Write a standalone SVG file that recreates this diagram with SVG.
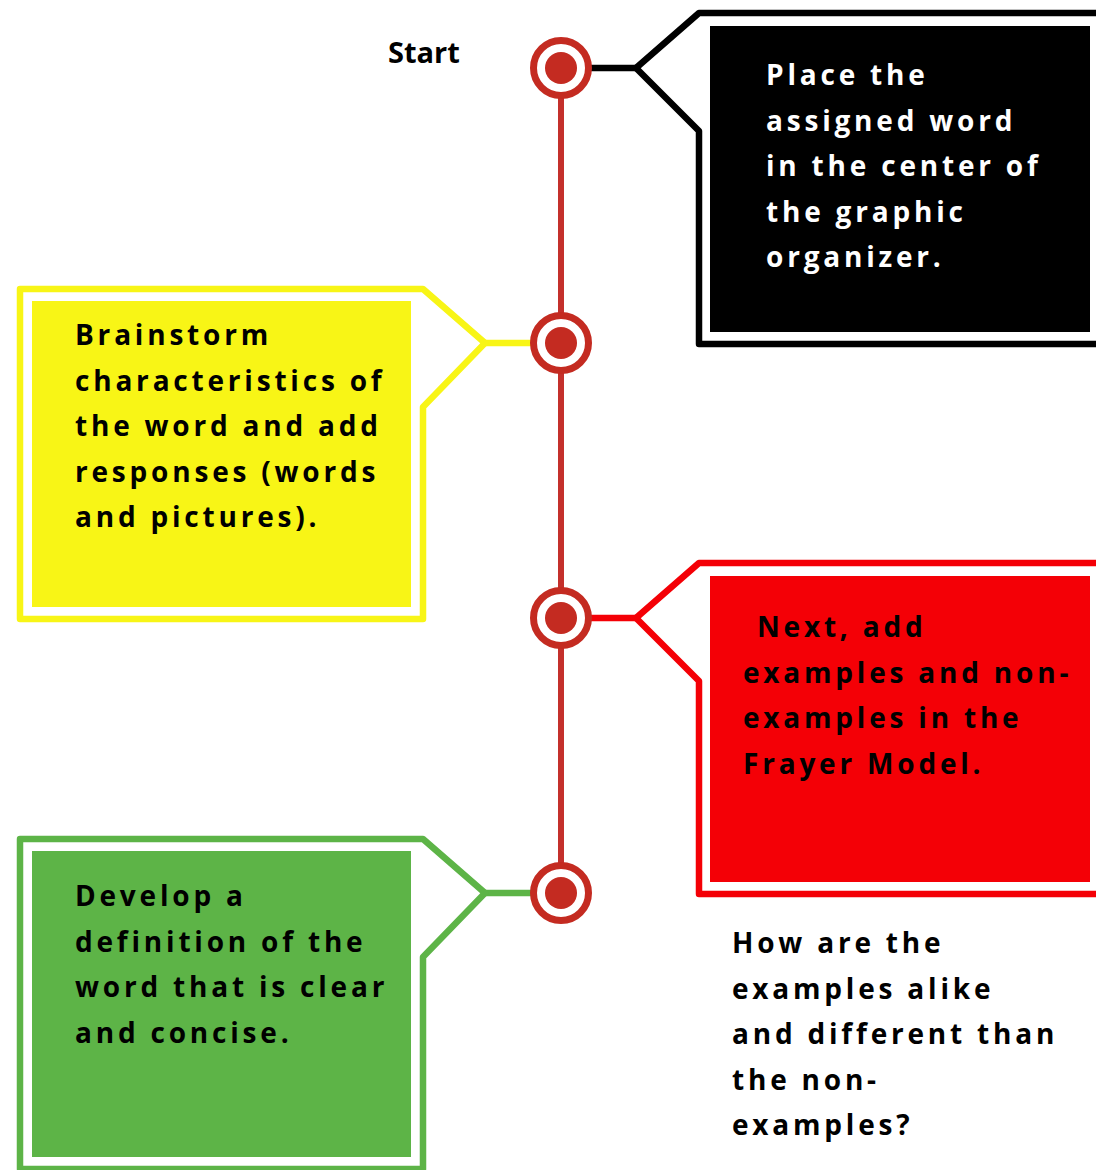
<svg xmlns="http://www.w3.org/2000/svg" width="1096" height="1170" viewBox="0 0 1096 1170">
<style>
.t{font-family:"Open Sans","Noto Sans","DejaVu Sans",sans-serif;font-weight:700;font-size:28px;letter-spacing:3.8px;}
.w{fill:#FFFFFF;}
.k{fill:#000000;}
.outline{fill:none;stroke-width:6.5;stroke-linejoin:round;}
.ring{fill:#FFFFFF;stroke:#C42B21;stroke-width:7;}
.dot{fill:#C42B21;}
</style>
<rect width="1096" height="1170" fill="#FFFFFF"/>
<g id="connectors">
<line x1="561" y1="68" x2="561" y2="893" stroke="#C4302B" stroke-width="6"/>
<line x1="590" y1="68" x2="636" y2="68" stroke="#000000" stroke-width="6.5"/>
<line x1="485" y1="343" x2="532" y2="343" stroke="#F8F516" stroke-width="6.5"/>
<line x1="590" y1="618" x2="636" y2="618" stroke="#F40006" stroke-width="6.5"/>
<line x1="485" y1="893" x2="532" y2="893" stroke="#5DB447" stroke-width="6.5"/>
</g>
<g id="start-label">
<text x="388" y="63" font-family="'Open Sans','Noto Sans',sans-serif" font-weight="700" font-size="29">Start</text>
</g>
<g id="node-1">
<circle class="ring" cx="561" cy="68" r="27.5"/>
<circle class="dot" cx="561" cy="68" r="16"/>
</g>
<g id="node-2">
<circle class="ring" cx="561" cy="343" r="27.5"/>
<circle class="dot" cx="561" cy="343" r="16"/>
</g>
<g id="node-3">
<circle class="ring" cx="561" cy="618" r="27.5"/>
<circle class="dot" cx="561" cy="618" r="16"/>
</g>
<g id="node-4">
<circle class="ring" cx="561" cy="893" r="27.5"/>
<circle class="dot" cx="561" cy="893" r="16"/>
</g>
<g id="box-black">
<path class="outline" stroke="#000000" d="M1100,13 H699 L636,68 L699,131 V344 H1100"/>
<rect x="710" y="26" width="380" height="306" fill="#000000"/>
<text class="t w"><tspan x="766" y="85">Place the</tspan><tspan x="766" y="130.5">assigned word</tspan><tspan x="766" y="176">in the center of</tspan><tspan x="766" y="221.5">the graphic</tspan><tspan x="766" y="267">organizer.</tspan></text>
</g>
<g id="box-yellow">
<path class="outline" stroke="#F8F516" d="M20,289 H423 L485,343 L423,407 V619 H20 Z"/>
<rect x="32" y="301" width="379" height="306" fill="#F8F516"/>
<text class="t k"><tspan x="75" y="345">Brainstorm</tspan><tspan x="75" y="390.5">characteristics of</tspan><tspan x="75" y="436">the word and add</tspan><tspan x="75" y="481.5">responses (words</tspan><tspan x="75" y="527">and pictures).</tspan></text>
</g>
<g id="box-red">
<path class="outline" stroke="#F40006" d="M1100,563 H699 L636,618 L699,681 V894 H1100"/>
<rect x="710" y="576" width="380" height="306" fill="#F40006"/>
<text class="t k"><tspan x="757" y="637">Next, add</tspan><tspan x="743" y="682.5">examples and non-</tspan><tspan x="743" y="728">examples in the</tspan><tspan x="743" y="773.5">Frayer Model.</tspan></text>
</g>
<g id="box-green">
<path class="outline" stroke="#5DB447" d="M20,839 H423 L485,893 L423,957 V1169 H20 Z"/>
<rect x="32" y="851" width="379" height="306" fill="#5DB447"/>
<text class="t k"><tspan x="75" y="906">Develop a</tspan><tspan x="75" y="951.5">definition of the</tspan><tspan x="75" y="997">word that is clear</tspan><tspan x="75" y="1042.5">and concise.</tspan></text>
</g>
<g id="note">
<text class="t k"><tspan x="732" y="953">How are the</tspan><tspan x="732" y="998.5">examples alike</tspan><tspan x="732" y="1044">and different than</tspan><tspan x="732" y="1089.5">the non-</tspan><tspan x="732" y="1135">examples?</tspan></text>
</g>
</svg>
